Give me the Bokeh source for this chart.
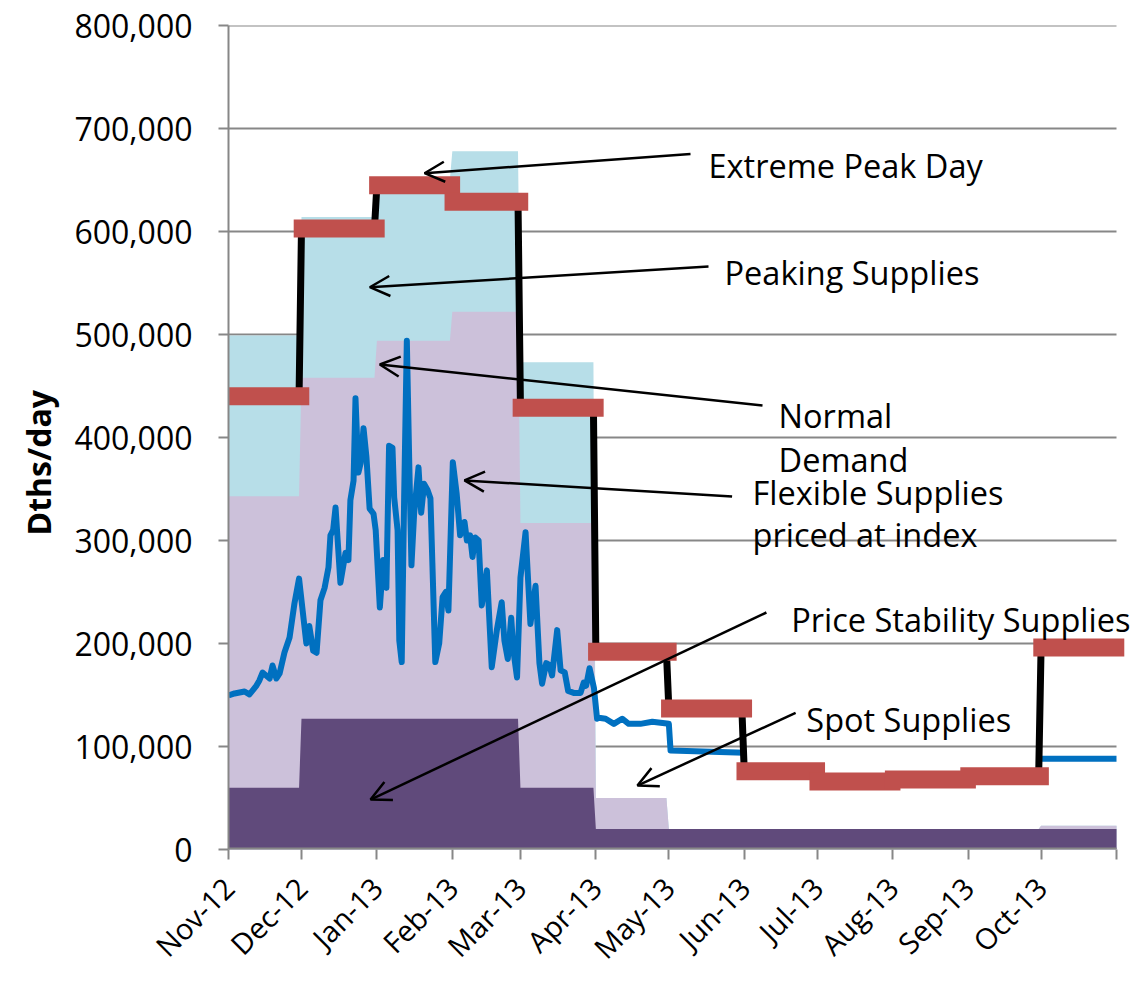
import math
from datetime import date
import numpy as np
from bokeh.plotting import figure
from bokeh.models import Range1d, FixedTicker, NumeralTickFormatter, Arrow, OpenHead, Label, Title
from bokeh.embed import file_html
from bokeh.resources import INLINE

# ---------------- data ----------------
PERIOD_START = date(2012, 11, 1)
PERIOD_END = date(2013, 11, 1)

month_starts = ["2012-11-01", "2012-12-01", "2013-01-01", "2013-02-01", "2013-03-01", "2013-04-01",
                "2013-05-01", "2013-06-01", "2013-07-01", "2013-08-01", "2013-09-01", "2013-10-01"]
month_labels = ["Nov-12", "Dec-12", "Jan-13", "Feb-13", "Mar-13", "Apr-13",
                "May-13", "Jun-13", "Jul-13", "Aug-13", "Sep-13", "Oct-13"]

# monthly supply stack (Dths/day)
price_stability = [60000, 127000, 127000, 127000, 60000, 20000, 20000, 20000, 20000, 20000, 20000, 20000]
flexible_index = [283000, 331000, 367000, 395000, 257000, 30000, 0, 0, 0, 0, 0, 3000]
peaking = [156000, 156000, 157000, 156000, 156000, 0, 0, 0, 0, 0, 0, 0]

# extreme peak day demand by month
peak_day = [440000, 603000, 645000, 629000, 429000, 192000, 137000, 76000, 66000, 68000, 71000, 196000]

# normal daily demand (days since 2012-11-01, Dths/day)
demand_day = [0, 2.5, 6.6, 8.6, 11.5, 12.7, 14.0, 16.9, 18.1, 19.7, 21.0, 23.0, 25.1, 27.1, 29.0,
              32.0, 33.2, 34.8, 36.2, 37.8, 39.5, 41.1, 41.9, 43.0, 44.0, 46.0, 48.1, 49.3, 50.1,
              51.4, 52.2, 53.4, 54.3, 55.5, 56.7, 58.0, 59.6, 60.5, 62.2, 63.6, 64.9, 66.0, 67.4,
              68.1, 69.5, 70.2, 71.2, 72.2, 73.3, 74.3, 75.2, 76.3, 78.1, 79.2, 80.4, 81.8, 83.0,
              83.8, 85.0, 86.6, 88.0, 89.3, 90.4, 92.2, 93.8, 95.2, 97.0, 98.0, 99.3, 100.3, 101.4,
              102.8, 104.1, 106.2, 108.2, 110.3, 112.3, 113.4, 114.8, 116.2, 117.1, 118.6, 120.0,
              122.1, 124.1, 126.2, 127.8, 128.9, 130.6, 131.9, 133.0, 135.1, 136.5, 138.2, 139.6,
              141.9, 144.7, 146.0, 147.0, 148.4, 150.2, 151.5, 152.2, 155.0, 158.4, 161.8, 164.5,
              169.3, 174.2, 181.0, 181.7, 212.0, 212.5, 334.0, 365.0]
demand = [149500, 151500, 153400, 150500, 159200, 164100, 171800, 166000, 178600, 166000, 170900,
          191300, 205800, 238800, 263000,
          200000, 217000, 193000, 191000, 242000, 254000, 274000, 305000, 310000, 332000, 259000,
          288000, 281000, 339000, 358000, 438000, 366000, 375000, 409000, 381000, 331000, 326000,
          310000, 235000, 281000, 254000, 392000, 390000, 342000, 310000, 203000, 182000, 342000,
          494000, 375000, 276000, 326000, 371000, 327000, 355000, 349000, 341000, 278000, 182000,
          200000, 245000, 250000, 232000, 376000, 345000, 305000, 318000, 300000, 305000, 284000,
          303000, 300000, 237000, 271000, 177000, 213000, 240000, 203000, 185000, 225000, 193000,
          167000, 264000, 308000, 219000, 256000, 181000, 161000, 181000, 179000, 169000, 213000,
          174000, 172000, 154000, 152000, 152000, 162000, 159000, 176000, 157000, 127000, 128000,
          127000, 122000, 127000, 122000, 122000, 124000, 122000, 96000, 94000, float("nan"),
          88000, 88000]

y_ticks = [0, 100000, 200000, 300000, 400000, 500000, 600000, 700000, 800000]

# ---------------- helpers ----------------
def offset(s):
    return (date.fromisoformat(s) - PERIOD_START).days

starts = [offset(s) for s in month_starts]
total_days = (PERIOD_END - PERIOD_START).days
bounds = starts + [total_days]

def monthly_step(vals):
    xs, ys = [], []
    n = len(vals)
    for i, v in enumerate(vals):
        x0 = bounds[i]
        x1 = bounds[i + 1] - (1 if i < n - 1 else 0)
        xs += [x0, x1]
        ys += [v, v]
    return np.array(xs, dtype=float), np.array(ys, dtype=float)

xs, ps_y = monthly_step(price_stability)
_, flex_y = monthly_step(flexible_index)
_, peak_y = monthly_step(peaking)
cum1 = ps_y
cum2 = cum1 + flex_y
cum3 = cum2 + peak_y

FONT = "Open Sans"
DARK = "#604A7B"
LAV = "#CCC1DA"
LBLUE = "#B7DEE8"
BLUE = "#0070C0"
RED = "#C0504D"
GRID = "#878787"

# frame spans 888 px for the 365-day period; extra right room keeps long texts visible
PX_PER_DAY = 888 / total_days
RIGHT_PAD_PX = 19
x_end = total_days + RIGHT_PAD_PX / PX_PER_DAY

p = figure(width=1135, height=984, output_backend="svg", toolbar_location=None,
           x_range=Range1d(0, x_end), y_range=Range1d(0, 800000),
           min_border_left=228, min_border_right=0, min_border_top=25, min_border_bottom=135)
p.outline_line_color = None
p.background_fill_color = "white"
p.border_fill_color = "white"

# horizontal gridlines ending at the period end
p.xgrid.visible = False
p.ygrid.visible = False
grid_vals = y_ticks[1:]
p.segment(x0=[0] * len(grid_vals), x1=[total_days] * len(grid_vals), y0=grid_vals, y1=grid_vals,
          line_color=GRID, line_width=2)

# stacked areas (drawn overlapping from zero to avoid seams)
p.varea(x=xs, y1=0, y2=cum3, fill_color=LBLUE)
p.varea(x=xs, y1=0, y2=cum2, fill_color=LAV)
p.varea(x=xs, y1=0, y2=cum1, fill_color=DARK)

# x axis baseline ending at the period end
p.segment(x0=[0], x1=[total_days], y0=[0], y1=[0], line_color=GRID, line_width=4)

# normal demand
p.line(demand_day, demand, line_color=BLUE, line_width=6, line_join="round")

# extreme peak day
bx, by = monthly_step(peak_day)
p.line(bx, by, line_color="black", line_width=7)
ext = 3.2
p.segment(x0=[b - ext for b in bounds[:-1]], x1=[b + ext for b in bounds[1:]],
          y0=peak_day, y1=peak_day, line_color=RED, line_width=18, line_cap="butt")

# axes
p.yaxis.ticker = FixedTicker(ticks=y_ticks)
p.yaxis.formatter = NumeralTickFormatter(format="0,0")
p.xaxis.ticker = FixedTicker(ticks=bounds)
overrides = {b: lab for b, lab in zip(starts, month_labels)}
overrides[total_days] = ""
p.xaxis.major_label_overrides = overrides
p.xaxis.major_label_orientation = math.pi / 4

for ax in (p.xaxis[0], p.yaxis[0]):
    ax.axis_line_color = GRID
    ax.axis_line_width = 2
    ax.major_tick_line_color = GRID
    ax.major_tick_line_width = 2
    ax.major_tick_out = 10
    ax.major_tick_in = 0
    ax.minor_tick_line_color = None
    ax.major_label_text_font = FONT
    ax.major_label_text_color = "black"
p.xaxis.axis_line_color = None

p.yaxis.major_label_text_font_size = "32px"
p.yaxis.major_label_standoff = 26
p.xaxis.major_label_text_font_size = "29px"
p.xaxis.major_label_standoff = 23

# y-axis title
p.add_layout(Title(text="Dths/day", align="left", offset=314, standoff=23,
                   text_font=FONT, text_font_style="bold", text_font_size="32px",
                   text_color="black"), "left")

# annotations: (text, x, y) in data units
labels = [
    ("Extreme Peak Day", 197.3, 664000),
    ("Peaking  Supplies", 203.9, 560100),
    ("Normal", 226.1, 421300),
    ("Demand", 226.1, 378600),
    ("Flexible Supplies", 215.4, 346600),
    ("priced at index", 215.4, 305800),
    ("Price Stability Supplies", 231.3, 223600),
    ("Spot Supplies", 237.5, 126500),
]
for t, x, y in labels:
    p.add_layout(Label(x=x, y=y, text=t, text_font=FONT, text_font_size="32.5px",
                       text_color="black", text_align="left", text_baseline="alphabetic"))

arrows = [
    (189.9, 675200, 80.6, 656600),
    (197.3, 566000, 58.1, 545900),
    (219.5, 431000, 62.2, 470900),
    (207.0, 342700, 97.0, 358300),
    (221.1, 230100, 58.4, 48500),
    (233.1, 132700, 168.1, 62100),
]
for x0, y0, x1, y1 in arrows:
    p.add_layout(Arrow(x_start=x0, y_start=y0, x_end=x1, y_end=y1,
                       line_color="black", line_width=2.5,
                       end=OpenHead(size=20, line_color="black", line_width=2.5)))

open("out.html", "w").write(file_html(p, INLINE))
